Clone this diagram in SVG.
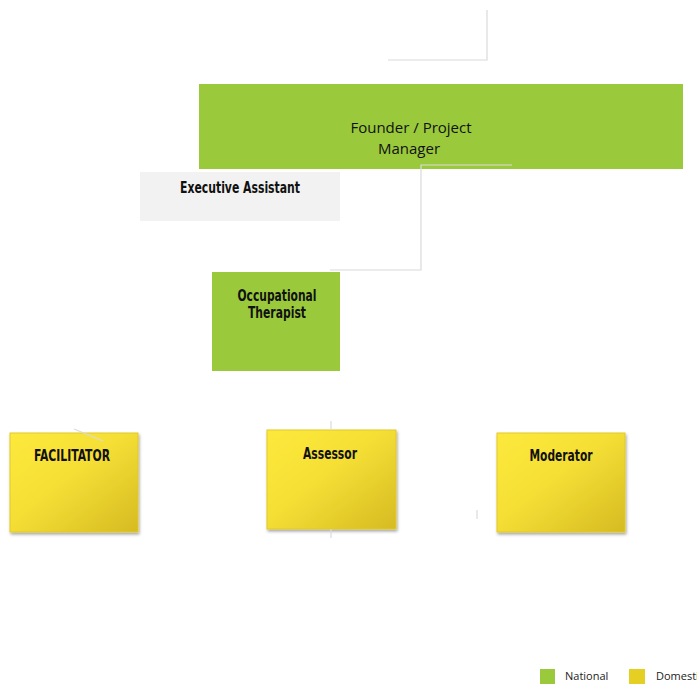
<svg xmlns="http://www.w3.org/2000/svg" width="697" height="688" viewBox="0 0 697 688">
<defs>
<linearGradient id="yg" x1="0" y1="0" x2="1" y2="1">
<stop offset="0" stop-color="#FDE93C"/>
<stop offset="0.45" stop-color="#F5DF35"/>
<stop offset="1" stop-color="#D6BB22"/>
</linearGradient>
<filter id="sh" x="-10%" y="-10%" width="125%" height="125%">
<feDropShadow dx="1" dy="2" stdDeviation="1.5" flood-color="#000" flood-opacity="0.35"/>
</filter>
</defs>
<style>
.ln{fill:none;stroke:#DADADA;stroke-width:1.2}
.green{fill:#9ACA3C}
.yel{fill:url(#yg);stroke:#E2C927;stroke-width:1;filter:url(#sh)}
.t1{font-family:"Open Sans","DejaVu Sans",sans-serif;font-size:15px;fill:#111;text-anchor:middle}
.tb{font-family:"DejaVu Sans Condensed","DejaVu Sans",sans-serif;font-weight:bold;font-size:15px;fill:#111;text-anchor:middle}
.lg{font-family:"Open Sans","DejaVu Sans",sans-serif;font-size:11px;fill:#222}
</style>
<rect width="697" height="688" fill="#fff"/>
<g id="founder">
<rect class="green" x="199" y="84" width="484" height="85"/>
<text class="t1" x="411" y="133">Founder / Project</text>
<text class="t1" x="409" y="154">Manager</text>
</g>
<g id="exec">
<rect x="140" y="172" width="200" height="49" fill="#F2F2F2"/>
<text class="tb" x="240" y="193" textLength="120" lengthAdjust="spacingAndGlyphs">Executive Assistant</text>
</g>
<g id="ot">
<rect class="green" x="212" y="272" width="128" height="99"/>
<text class="tb" x="277" y="301" textLength="79" lengthAdjust="spacingAndGlyphs">Occupational</text>
<text class="tb" x="277" y="318" textLength="58" lengthAdjust="spacingAndGlyphs">Therapist</text>
</g>
<g id="facilitator">
<rect class="yel" x="10" y="433" width="128" height="99"/>
<text class="tb" x="72" y="461" textLength="76" lengthAdjust="spacingAndGlyphs">FACILITATOR</text>
</g>
<g id="assessor">
<rect class="yel" x="267" y="430" width="129" height="99"/>
<text class="tb" x="330" y="459" textLength="54" lengthAdjust="spacingAndGlyphs">Assessor</text>
</g>
<g id="moderator">
<rect class="yel" x="497" y="433" width="128" height="99"/>
<text class="tb" x="561" y="461" textLength="63" lengthAdjust="spacingAndGlyphs">Moderator</text>
</g>
<g id="legend">
<rect x="540" y="669" width="15" height="15" fill="#9ACA3C"/>
<text class="lg" x="565" y="680">National</text>
<rect x="629" y="669" width="16" height="15" fill="#E5CF22"/>
<text class="lg" x="656" y="680">Domestic</text>
</g>
<g id="connectors">
<polyline class="ln" points="487,10 487,60 388,60"/>
<polyline class="ln" points="512,165 421,165 421,270 330,270"/>
<line class="ln" x1="74" y1="429" x2="103" y2="441"/>
<line class="ln" x1="331" y1="421" x2="331" y2="430"/>
<line class="ln" x1="331" y1="529" x2="331" y2="538"/>
<line class="ln" x1="477" y1="510" x2="477" y2="519"/>
</g>
</svg>
